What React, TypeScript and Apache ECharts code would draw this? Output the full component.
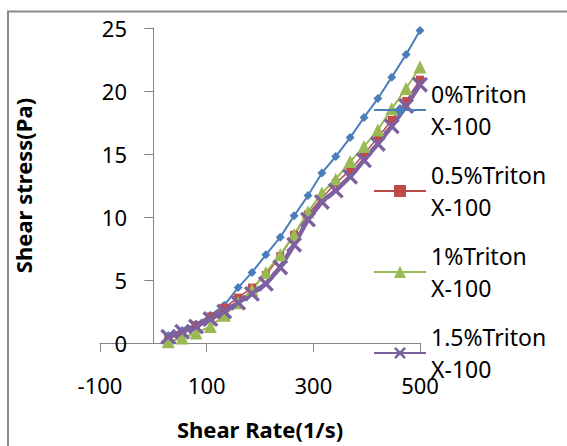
import React, { useEffect, useRef } from "react";
import * as echarts from "echarts";

// Shear rate (1/s)
const shearRate = [28, 54, 80, 107, 133, 159, 185, 211, 238, 264, 290, 316, 342, 369, 395, 421, 447, 474, 500];
// Shear stress (Pa)
const triton0 = [0.6, 1.0, 1.5, 2.2, 3.0, 4.4, 5.6, 7.0, 8.4, 10.1, 11.7, 13.5, 14.8, 16.3, 17.9, 19.4, 21.1, 22.9, 24.8];
const triton05 = [0.3, 0.8, 1.4, 2.1, 2.8, 3.6, 4.4, 5.4, 6.9, 8.6, 10.2, 11.5, 12.7, 13.7, 15.0, 16.3, 17.7, 19.2, 20.9];
const triton1 = [0.1, 0.4, 0.8, 1.3, 2.2, 3.2, 4.2, 5.6, 7.0, 8.6, 10.4, 11.9, 13.0, 14.4, 15.6, 16.9, 18.6, 20.2, 21.9];
const triton15 = [0.5, 0.9, 1.3, 1.9, 2.5, 3.2, 3.9, 4.7, 6.0, 7.8, 9.8, 11.2, 12.1, 13.2, 14.5, 15.8, 17.2, 18.8, 20.5];

const seriesNames = ["0%Triton X-100", "0.5%Triton X-100", "1%Triton X-100", "1.5%Triton X-100"];
const xTickValues = [-100, 100, 300, 500];

const FONT = "Noto Sans";
const CROSS =
  "path://M0,1.5L1.5,0L5,3.5L8.5,0L10,1.5L6.5,5L10,8.5L8.5,10L5,6.5L1.5,10L0,8.5L3.5,5Z";

export default function App() {
  const ref = useRef<HTMLDivElement>(null);
  useEffect(() => {
    const chart = echarts.init(ref.current!, null, { renderer: "svg" });
    const pair = (ys: number[]) => shearRate.map((x, i) => [x, ys[i]]);
    const axisLine = { lineStyle: { color: "#868686", width: 1 } };
    chart.setOption({
      animation: false,
      backgroundColor: "#fff",
      grid: { left: 100, right: 147, top: 28, bottom: 103, containLabel: false, outerBoundsMode: "none" },
      graphic: [
        {
          type: "rect",
          shape: { x: 8, y: 11.5, width: 700, height: 600 },
          style: { fill: "none", stroke: "#8a8a8a", lineWidth: 2 },
          silent: true,
          z: -1,
        },
      ],
      xAxis: {
        type: "value",
        min: -100,
        max: 500,
        interval: 100,
        name: "Shear Rate(1/s)",
        nameLocation: "middle",
        nameGap: 75,
        nameMoveOverlap: false,
        nameTextStyle: { fontFamily: FONT, fontSize: 22, fontWeight: "bold", color: "#000" },
        axisLine: { ...axisLine, onZero: true },
        axisTick: { show: true, length: 9, lineStyle: { color: "#868686" }, customValues: xTickValues },
        axisLabel: { fontFamily: FONT, fontSize: 22, color: "#000", margin: 31, customValues: xTickValues },
        splitLine: { show: false },
      },
      yAxis: {
        type: "value",
        min: 0,
        max: 25,
        interval: 5,
        name: "Shear stress(Pa)",
        nameLocation: "middle",
        nameGap: 66,
        nameMoveOverlap: false,
        nameTextStyle: { fontFamily: FONT, fontSize: 22, fontWeight: "bold", color: "#000" },
        axisLine: { show: true, ...axisLine, onZero: true },
        axisTick: { show: true, length: 9, lineStyle: { color: "#868686" } },
        axisLabel: { fontFamily: FONT, fontSize: 22, color: "#000", margin: -27 },
        splitLine: { show: false },
      },
      legend: {
        orient: "vertical",
        left: 373,
        top: 62,
        padding: 0,
        itemGap: -15,
        itemWidth: 52,
        itemHeight: 15,
        formatter: (n: string) => n.replace(" ", "\n"),
        textStyle: { fontFamily: FONT, fontSize: 23, color: "#000", lineHeight: 32, padding: [32, 0, 0, 0] },
        data: seriesNames,
      },
      series: [
        {
          name: seriesNames[0],
          type: "line",
          data: pair(triton0),
          symbol: "diamond",
          symbolSize: 9,
          color: "#4A7EBB",
          lineStyle: { width: 2, color: "#4A7EBB" },
          itemStyle: { color: "#4A7EBB" },
        },
        {
          name: seriesNames[1],
          type: "line",
          data: pair(triton05),
          symbol: "rect",
          symbolSize: 8,
          color: "#BE4B48",
          lineStyle: { width: 1.5, color: "#BE4B48" },
          itemStyle: { color: "#BE4B48" },
        },
        {
          name: seriesNames[2],
          type: "line",
          data: pair(triton1),
          symbol: "triangle",
          symbolSize: 13,
          color: "#98B954",
          lineStyle: { width: 2, color: "#98B954" },
          itemStyle: { color: "#98B954" },
        },
        {
          name: seriesNames[3],
          type: "line",
          data: pair(triton15),
          symbol: CROSS,
          symbolSize: 16,
          color: "#7D60A0",
          lineStyle: { width: 4.5, color: "#7D60A0" },
          itemStyle: { color: "#7D60A0" },
        },
      ],
    });
    return () => chart.dispose();
  }, []);
  return (
    <div
      ref={ref}
      style={{ position: "fixed", left: 0, top: 0, width: 567, height: 446, background: "#fff" }}
    />
  );
}
